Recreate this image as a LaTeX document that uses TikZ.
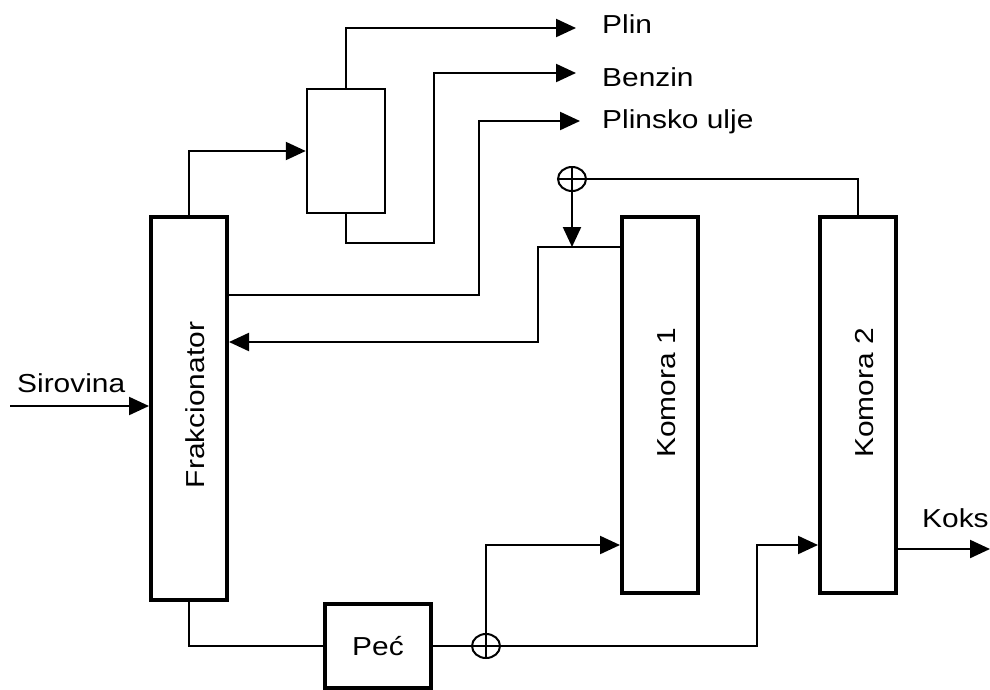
\documentclass[tikz,border=0pt]{standalone}
\usepackage{fontspec}
\setmainfont{Liberation Sans}
\usepackage{graphicx}
\usetikzlibrary{arrows.meta,shapes.geometric}
\newcommand{\wide}[1]{\scalebox{1.15}[1]{#1}}

\begin{document}
\begin{tikzpicture}[
  x=1pt, y=-1pt,
  font=\fontsize{26}{30}\selectfont,
  column/.style={draw, line width=4pt, minimum width=76pt, inner sep=0pt},
  drum/.style={draw, line width=2.5pt, minimum width=78pt, minimum height=124pt, inner sep=0pt},
  sum/.style={draw, ellipse, line width=2pt, minimum width=28pt, minimum height=24pt, inner sep=0pt,
    path picture={\draw[line width=2pt] (path picture bounding box.north) -- (path picture bounding box.south)
      (path picture bounding box.west) -- (path picture bounding box.east);}},
  ln/.style={line width=2.2pt},
  arr/.style={ln, -{Triangle[length=20pt, width=18pt]}},
  lab/.style={anchor=base west, inner sep=0pt},
]
  \useasboundingbox (0,0) rectangle (990,689);
  % units
  \node[column, minimum height=383pt] (frak) at (189,408) {};
  \node[drum] (kol) at (346,151) {};
  \node[column, minimum height=376pt] (kom1) at (660,405) {};
  \node[column, minimum height=376pt] (kom2) at (858,405) {};
  \node[column, minimum width=106pt, minimum height=84pt] (pec) at (378,646) {\wide{Peć}};
  \node[sum] (sum1) at (572,179) {};
  \node[sum] (sum2) at (486,646) {};
  \node[rotate=90] (tfrak) at (195,405) {\wide{Frakcionator}};
  \node[rotate=90] (tkom1) at (667,393) {\wide{Komora 1}};
  \node[rotate=90] (tkom2) at (865,393) {\wide{Komora 2}};
  % products
  \node[lab] (tplin) at (602,33) {\wide{Plin}};
  \node[lab] (tbenzin) at (602,86) {\wide{Benzin}};
  \node[lab] (tulje) at (602,128) {\wide{Plinsko ulje}};
  \node[lab] (tkoks) at (922,527) {\wide{Koks}};
  \node[lab] (tsir) at (17,392) {\wide{Sirovina}};
  \coordinate (sir) at (10,406);
  \coordinate (plin) at (576,28);
  \coordinate (benzin) at (576,73);
  \coordinate (ulje) at (580,121);
  \coordinate (koks) at (990,549);
  % feed and overhead
  \draw[arr] (sir) -- (sir -| frak.west);
  \draw[arr] (frak.north) |- (kol.west);
  \draw[arr] (kol.north) |- (plin);
  \draw[arr] (kol.south) |- ++(88,29) |- (benzin);
  \draw[arr] ([yshift=113pt]frak.east) -| ++(250,-174) -- (ulje);
  % recycle
  \draw[arr] ([yshift=158pt]kom1.west) -| ++(-82,95) -- ([yshift=66pt]frak.east);
  \draw[arr] (sum1.south) -- ++(0,55);
  \draw[ln] (kom2.north) |- (sum1.east);
  % furnace to drums
  \draw[ln] (frak.south) |- (pec.west);
  \draw[ln] (pec.east) -- (sum2.west);
  \draw[arr] (sum2.north) |- ([yshift=-140pt]kom1.west);
  \draw[arr] (sum2.east) -| ([xshift=-61pt,yshift=-140pt]kom2.west) -- ([yshift=-140pt]kom2.west);
  \draw[arr] ([yshift=-144pt]kom2.east) -- (koks);
\end{tikzpicture}
\end{document}
